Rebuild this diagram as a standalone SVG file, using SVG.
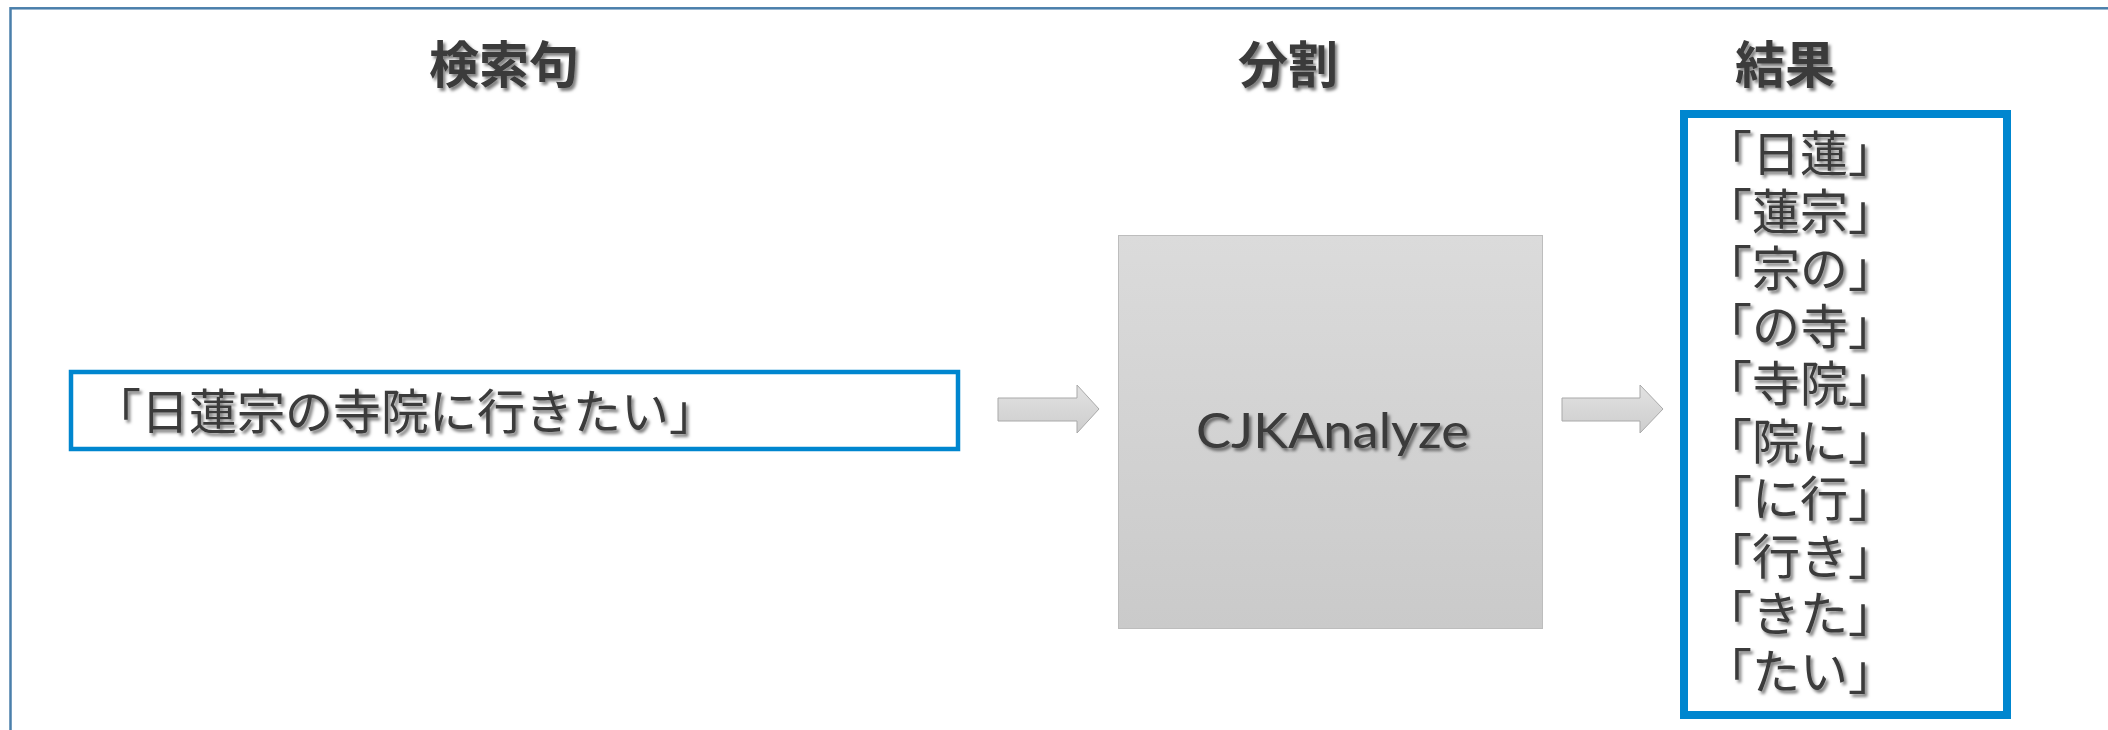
<svg xmlns="http://www.w3.org/2000/svg" width="2108" height="730" viewBox="0 0 2108 730">
  <defs>
    <filter id="textShadow" x="-10%" y="-20%" width="130%" height="160%">
      <feDropShadow dx="2.5" dy="3" stdDeviation="1.8" flood-color="#000" flood-opacity="0.5"/>
    </filter>
    <linearGradient id="boxFill" x1="0" y1="0" x2="0" y2="1">
      <stop offset="0" stop-color="#dbdbdb"/>
      <stop offset="1" stop-color="#cacaca"/>
    </linearGradient>
    <linearGradient id="arrowFill" x1="0" y1="0" x2="0" y2="1">
      <stop offset="0" stop-color="#e2e2e2"/>
      <stop offset="1" stop-color="#cdcdcd"/>
    </linearGradient>
  </defs>
  <style>
    .jp { font-family: "Noto Sans CJK JP", "Noto Sans CJK SC", sans-serif; fill: #3a3a3a; filter: url(#textShadow); }
    .title { font-size: 50px; font-weight: 700; text-anchor: middle; }
    .body { font-size: 48px; font-weight: 400; }
    .latin { font-family: "Lato", "Liberation Sans", sans-serif; font-size: 48px; fill: #3a3a3a; filter: url(#textShadow); }
    .blueBox { fill: #fff; stroke: #0086cf; }
    .arrow { fill: url(#arrowFill); stroke: #a9a9a9; stroke-width: 1; }
  </style>

  <rect width="2108" height="730" fill="#fff"/>
  <!-- outer frame, open to the right and bottom -->
  <rect x="10.5" y="8.3" width="2200" height="900" fill="none" stroke="#4a7fab" stroke-width="2.5"/>

  <!-- column headings -->
  <g id="title-query"><text class="jp title" x="504" y="83">検索句</text></g>
  <g id="title-split"><text class="jp title" x="1288" y="83">分割</text></g>
  <g id="title-result"><text class="jp title" x="1785" y="83">結果</text></g>

  <!-- input sentence -->
  <g id="node-input">
    <rect class="blueBox" x="71" y="372" width="887" height="77" stroke-width="4.5"/>
    <text class="jp body" x="93" y="429">「日蓮宗の寺院に行きたい」</text>
  </g>

  <!-- analyzer -->
  <g id="node-analyzer">
    <rect x="1118.5" y="235.5" width="424" height="393" fill="url(#boxFill)" stroke="#bdbdbd" stroke-width="1"/>
    <text class="latin" x="1196" y="448" textLength="273" lengthAdjust="spacingAndGlyphs">CJKAnalyze</text>
  </g>

  <!-- bigram output, one token per line -->
  <g id="node-result">
    <rect class="blueBox" x="1684" y="114" width="323" height="601" stroke-width="8"/>
    <text class="jp body" x="1704" y="171"><tspan x="1704">「日蓮」</tspan><tspan x="1704" dy="57.5">「蓮宗」</tspan><tspan x="1704" dy="57.5">「宗の」</tspan><tspan x="1704" dy="57.5">「の寺」</tspan><tspan x="1704" dy="57.5">「寺院」</tspan><tspan x="1704" dy="57.5">「院に」</tspan><tspan x="1704" dy="57.5">「に行」</tspan><tspan x="1704" dy="57.5">「行き」</tspan><tspan x="1704" dy="57.5">「きた」</tspan><tspan x="1704" dy="57.5">「たい」</tspan></text>
  </g>

  <!-- block arrows -->
  <g id="connectors">
    <polygon class="arrow" points="998,398 1077,398 1077,385 1099,409 1077,433 1077,421 998,421"/>
    <polygon class="arrow" points="1562,398 1640,398 1640,385 1663,409 1640,433 1640,421 1562,421"/>
  </g>
</svg>
